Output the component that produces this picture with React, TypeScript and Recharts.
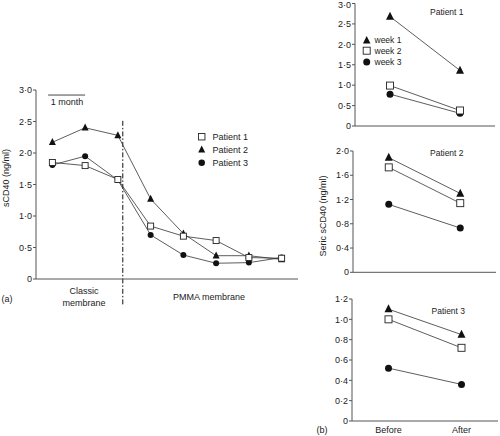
import { LineChart, Line, XAxis, YAxis, ReferenceLine } from 'recharts';

// panel (a): monthly sCD40, 3 months classic membrane then 5 months PMMA
const months = [1, 2, 3, 4, 5, 6, 7, 8];
const aPatient1 = [1.85, 1.8, 1.58, 0.84, 0.68, 0.61, 0.34, 0.33];
const aPatient2 = [2.17, 2.4, 2.28, 1.27, 0.72, 0.37, 0.37, 0.31];
const aPatient3 = [1.81, 1.95, 1.57, 0.7, 0.38, 0.25, 0.26, 0.34];
const aTicks = [0, 0.5, 1, 1.5, 2, 2.5, 3];

// panel (b): before / after one session, per patient and week
const phases = ['Before', 'After'];
const b1Week1 = [2.68, 1.36];
const b1Week2 = [0.99, 0.38];
const b1Week3 = [0.78, 0.31];
const b2Week1 = [1.89, 1.3];
const b2Week2 = [1.73, 1.14];
const b2Week3 = [1.12, 0.73];
const b3Week1 = [1.1, 0.85];
const b3Week2 = [1.0, 0.72];
const b3Week3 = [0.52, 0.36];
const b1Ticks = [0, 0.5, 1, 1.5, 2, 2.5, 3];
const b2Ticks = [0, 0.4, 0.8, 1.2, 1.6, 2];
const b3Ticks = [0, 0.2, 0.4, 0.6, 0.8, 1, 1.2];

const FONT = '"Liberation Sans", Arial, sans-serif';
const INK = '#222';
const AXIS = '#555';

const fmt = (v: number) => (v === 0 ? '0' : v.toFixed(1).replace('.', '·'));

type Kind = 'square' | 'triangle' | 'circle';

function Marker({ kind, cx, cy, s }: { kind: Kind; cx: number; cy: number; s: number }) {
  if (kind === 'square')
    return <rect x={cx - s / 2} y={cy - s / 2} width={s} height={s} fill="#fff" stroke={INK} strokeWidth={0.9} />;
  if (kind === 'triangle')
    return (
      <polygon
        points={`${cx},${cy - s * 0.6} ${cx - s / 2},${cy + s * 0.4} ${cx + s / 2},${cy + s * 0.4}`}
        fill="#111"
      />
    );
  return <circle cx={cx} cy={cy} r={s / 2} fill="#111" />;
}

const dotFor = (kind: Kind, s: number) => (props: any) =>
  <Marker key={`${kind}-${props.index}`} kind={kind} cx={props.cx} cy={props.cy} s={s} />;

const aRows = months.map((m, i) => ({ m, p1: aPatient1[i], p2: aPatient2[i], p3: aPatient3[i] }));

function PanelA() {
  return (
    <LineChart width={310} height={320} data={aRows} margin={{ top: 90, right: 12, bottom: 0, left: 6 }}>
      <XAxis
        dataKey="m"
        type="number"
        domain={[0.5, 8.5]}
        ticks={[3.5, 4.5, 5.5, 6.5, 7.5]}
        tick={false}
        tickSize={3}
        height={41}
        stroke={AXIS}
      />
      <YAxis
        type="number"
        domain={[0, 3]}
        ticks={aTicks}
        tickFormatter={fmt}
        width={30}
        tickSize={3}
        tickMargin={1}
        stroke={AXIS}
        tick={{ fontSize: 9, fill: INK, fontFamily: FONT }}
      />
      <ReferenceLine
        segment={[{ x: 3.15, y: 2.51 }, { x: 3.15, y: -0.42 }]}
        ifOverflow="visible"
        stroke="#111"
        strokeDasharray="5 2 1.5 2"
      />
      <ReferenceLine
        segment={[{ x: 0.87, y: 2.92 }, { x: 2.0, y: 2.92 }]}
        ifOverflow="visible"
        stroke="#333"
        strokeWidth={0.9}
      />
      <Line dataKey="p2" stroke="#333" strokeWidth={0.8} dot={dotFor('triangle', 7)} activeDot={false} isAnimationActive={false} />
      <Line dataKey="p3" stroke="#333" strokeWidth={0.8} dot={dotFor('circle', 6)} activeDot={false} isAnimationActive={false} />
      <Line dataKey="p1" stroke="#333" strokeWidth={0.8} dot={dotFor('square', 6)} activeDot={false} isAnimationActive={false} />
    </LineChart>
  );
}

interface PanelBProps {
  top: number;
  height: number;
  plotTop: number;
  plotBottom: number;
  plotLeft: number;
  plotRight: number;
  week1: number[];
  week2: number[];
  week3: number[];
  ticks: number[];
  showPhases?: boolean;
}

function PanelB({ top, height, plotTop, plotBottom, plotLeft, plotRight, week1, week2, week3, ticks, showPhases }: PanelBProps) {
  const rows = phases.map((p, i) => ({ x: i + 1, w1: week1[i], w2: week2[i], w3: week3[i] }));
  const left0 = 310;
  return (
    <div style={{ position: 'absolute', left: left0, top }}>
      <LineChart
        width={190}
        height={height}
        data={rows}
        style={{ overflow: 'visible' }}
        margin={{ top: plotTop - top, right: 500 - plotRight, bottom: 0, left: plotLeft - left0 - 30 }}
      >
        <XAxis
          dataKey="x"
          type="number"
          domain={[0.5, 2.5]}
          ticks={[1, 2]}
          tickFormatter={(v: number) => phases[v - 1]}
          tick={showPhases ? { fontSize: 9, fill: INK, fontFamily: FONT } : false}
          tickLine={false}
          tickSize={4}
          height={top + height - plotBottom}
          stroke={AXIS}
        />
        <YAxis
          type="number"
          domain={[0, ticks[ticks.length - 1]]}
          ticks={ticks}
          tickFormatter={fmt}
          width={30}
          tickSize={3}
          tickMargin={1}
          stroke={AXIS}
          tick={{ fontSize: 9, fill: INK, fontFamily: FONT }}
        />
        <Line dataKey="w1" stroke="#333" strokeWidth={0.8} dot={dotFor('triangle', 8)} activeDot={false} isAnimationActive={false} />
        <Line dataKey="w3" stroke="#333" strokeWidth={0.8} dot={dotFor('circle', 7)} activeDot={false} isAnimationActive={false} />
        <Line dataKey="w2" stroke="#333" strokeWidth={0.8} dot={dotFor('square', 7)} activeDot={false} isAnimationActive={false} />
      </LineChart>
    </div>
  );
}

export default function App() {
  const t = { fontSize: 9, fill: INK, fontFamily: FONT };
  return (
    <div style={{ position: 'absolute', left: 0, top: 0, width: 500, height: 436, background: '#fff', fontFamily: FONT }}>
      <div style={{ position: 'absolute', left: 0, top: 0 }}>
        <PanelA />
      </div>
      <PanelB top={0} height={140} plotTop={3.5} plotBottom={126} plotLeft={355} plotRight={495}
        week1={b1Week1} week2={b1Week2} week3={b1Week3} ticks={b1Ticks} />
      <PanelB top={140} height={145} plotTop={151} plotBottom={272.3} plotLeft={353} plotRight={496}
        week1={b2Week1} week2={b2Week2} week3={b2Week3} ticks={b2Ticks} />
      <PanelB top={285} height={151} plotTop={299} plotBottom={421} plotLeft={352} plotRight={498}
        week1={b3Week1} week2={b3Week2} week3={b3Week3} ticks={b3Ticks} showPhases />

      <svg width={500} height={436} style={{ position: 'absolute', left: 0, top: 0, pointerEvents: 'none' }}>
        {/* panel (a) texts */}
        <text x={67} y={101.7} {...t} textAnchor="middle" dominantBaseline="central">1 month</text>
        <text transform="translate(6,178) rotate(-90)" {...t} textAnchor="middle" dominantBaseline="central">sCD40 (ng/ml)</text>
        <text x={7} y={299} {...t} textAnchor="middle" dominantBaseline="central">(a)</text>
        <text x={84} y={291} {...t} textAnchor="middle" dominantBaseline="central">Classic</text>
        <text x={84} y={302.5} {...t} textAnchor="middle" dominantBaseline="central">membrane</text>
        <text x={209} y={296.7} {...t} textAnchor="middle" dominantBaseline="central">PMMA membrane</text>
        <Marker kind="square" cx={201.7} cy={136.7} s={6.5} />
        <Marker kind="triangle" cx={201.7} cy={149.8} s={7} />
        <Marker kind="circle" cx={201.7} cy={162.7} s={6.5} />
        <text x={212.5} y={136.7} {...t} dominantBaseline="central">Patient 1</text>
        <text x={212.5} y={149.5} {...t} dominantBaseline="central">Patient 2</text>
        <text x={212.5} y={162.7} {...t} dominantBaseline="central">Patient 3</text>

        {/* panel (b) texts */}
        <text transform="translate(323,216) rotate(-90)" {...t} textAnchor="middle" dominantBaseline="central">Seric sCD40 (ng/ml)</text>
        <text x={322} y={430} {...t} textAnchor="middle" dominantBaseline="central">(b)</text>
        <text x={430} y={11.7} {...t} fontSize={8.5} dominantBaseline="central">Patient 1</text>
        <text x={430} y={152.7} {...t} fontSize={8.5} dominantBaseline="central">Patient 2</text>
        <text x={431.5} y={310.7} {...t} fontSize={8.5} dominantBaseline="central">Patient 3</text>
        <Marker kind="triangle" cx={366.7} cy={40.5} s={7.5} />
        <Marker kind="square" cx={366.7} cy={50.7} s={7} />
        <Marker kind="circle" cx={366.7} cy={62} s={7} />
        <text x={374.5} y={40} {...t} fontSize={8.5} dominantBaseline="central">week 1</text>
        <text x={374.5} y={50.7} {...t} fontSize={8.5} dominantBaseline="central">week 2</text>
        <text x={374.5} y={62} {...t} fontSize={8.5} dominantBaseline="central">week 3</text>
      </svg>
    </div>
  );
}
